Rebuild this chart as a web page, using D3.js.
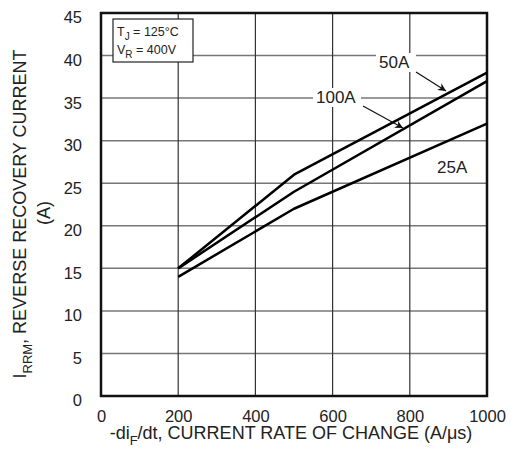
<!DOCTYPE html>
<html><head><meta charset="utf-8">
<script src="https://cdn.jsdelivr.net/npm/d3@7"></script>
<style>body{margin:0;background:#fff}svg{display:block}text{font-family:"Liberation Sans",Arial,sans-serif;fill:#222}</style>
</head><body><svg id="c" width="515" height="450"></svg>
<script>
const xTicks=[0,200,400,600,800,1000];
const yTicks=[0,5,10,15,20,25,30,35,40,45];
const xVals=[200,500,1000];
const series50=[15,26,38];
const series100=[15,24,37];
const series25=[14,22,32];
const seriesNames=["50A","100A","25A"];

const svg=d3.select("#c");
const m={l:101,r:487,t:13,b:396};
const x=d3.scaleLinear().domain([0,1000]).range([m.l,m.r]);
const y=d3.scaleLinear().domain([0,45]).range([m.b,m.t]);
const FF="Liberation Sans, Arial, sans-serif";

// grid
svg.append("g").selectAll("line").data(yTicks.slice(1,-1)).join("line")
 .attr("x1",m.l).attr("x2",m.r).attr("y1",d=>y(d)).attr("y2",d=>y(d))
 .attr("stroke","#777").attr("stroke-width",1.5);
svg.append("g").selectAll("line").data(xTicks.slice(1,-1)).join("line")
 .attr("y1",m.t).attr("y2",m.b).attr("x1",d=>x(d)).attr("x2",d=>x(d))
 .attr("stroke","#333").attr("stroke-width",1.2);

// axes labels
const xa=svg.append("g").attr("transform",`translate(0,${m.b})`).call(d3.axisBottom(x).tickValues(xTicks).tickFormat(d3.format("d")).tickSize(0).tickPadding(14));
xa.select(".domain").remove();
xa.selectAll("text").attr("font-size",16.5).attr("fill","#222").attr("font-family",FF);
const ya=svg.append("g").attr("transform",`translate(${m.l},0)`).call(d3.axisLeft(y).tickValues(yTicks).tickFormat(d3.format("d")).tickSize(0).tickPadding(19));
ya.select(".domain").remove();
ya.selectAll("text").attr("font-size",16.5).attr("fill","#222").attr("font-family",FF).attr("dy","0.6em");

// frame
svg.append("rect").attr("x",m.l).attr("y",m.t).attr("width",m.r-m.l).attr("height",m.b-m.t)
 .attr("fill","none").attr("stroke","#111").attr("stroke-width",2.5);

// curves
const line=d3.line().x((d,i)=>x(xVals[i])).y(d=>y(d));
[series50,series100,series25].forEach(s=>{
 svg.append("path").attr("d",line(s)).attr("fill","none").attr("stroke","#000").attr("stroke-width",2.5).attr("stroke-linejoin","round");
});

// legend box
svg.append("rect").attr("x",113).attr("y",19).attr("width",80).attr("height",43).attr("fill","#fff").attr("stroke","#222").attr("stroke-width",1.2);
const t1=svg.append("text").attr("x",117).attr("y",36).attr("font-size",12.5);
t1.append("tspan").text("T");t1.append("tspan").attr("font-size",10).attr("dy",4).text("J");t1.append("tspan").attr("dy",-4).text(" = 125°C");
const t2=svg.append("text").attr("x",117).attr("y",54).attr("font-size",12.5);
t2.append("tspan").text("V");t2.append("tspan").attr("font-size",10).attr("dy",4).text("R");t2.append("tspan").attr("dy",-4).text(" = 400V");

// labels with arrows
svg.append("defs").append("marker").attr("id","ah").attr("viewBox","0 0 10 10").attr("refX",10).attr("refY",5)
 .attr("markerWidth",12).attr("markerHeight",8).attr("markerUnits","userSpaceOnUse").attr("orient","auto")
 .append("path").attr("d","M0,0L10,5L0,10L3,5Z").attr("fill","#111");
function lbl(t,lx,ly,bw){
 svg.append("rect").attr("x",lx-3).attr("y",ly-15).attr("width",bw).attr("height",19).attr("fill","#fff");
 svg.append("text").attr("x",lx).attr("y",ly).attr("font-size",17).text(t);
}
lbl(seriesNames[0],379,68,40);
lbl(seriesNames[1],316,103,48);
svg.append("text").attr("x",437).attr("y",173).attr("font-size",17).text(seriesNames[2]);
svg.append("line").attr("x1",416).attr("y1",72).attr("x2",446).attr("y2",91).attr("stroke","#111").attr("stroke-width",1.2).attr("marker-end","url(#ah)");
svg.append("line").attr("x1",363).attr("y1",106).attr("x2",403).attr("y2",128).attr("stroke","#111").attr("stroke-width",1.2).attr("marker-end","url(#ah)");

// axis titles
const xt=svg.append("text").attr("x",291).attr("y",439).attr("text-anchor","middle").attr("font-size",18);
xt.append("tspan").text("-di");xt.append("tspan").attr("font-size",13).attr("dy",6).text("F");xt.append("tspan").attr("dy",-6).text("/dt, CURRENT RATE OF CHANGE (A/μs)");
const yt=svg.append("text").attr("transform","translate(26,214) rotate(-90)").attr("text-anchor","middle").attr("font-size",18);
yt.append("tspan").text("I");yt.append("tspan").attr("font-size",13).attr("dy",6).text("RRM");yt.append("tspan").attr("dy",-6).text(", REVERSE RECOVERY CURRENT");
svg.append("text").attr("transform","translate(50,213) rotate(-90)").attr("text-anchor","middle").attr("font-size",18).text("(A)");
</script></body></html>
